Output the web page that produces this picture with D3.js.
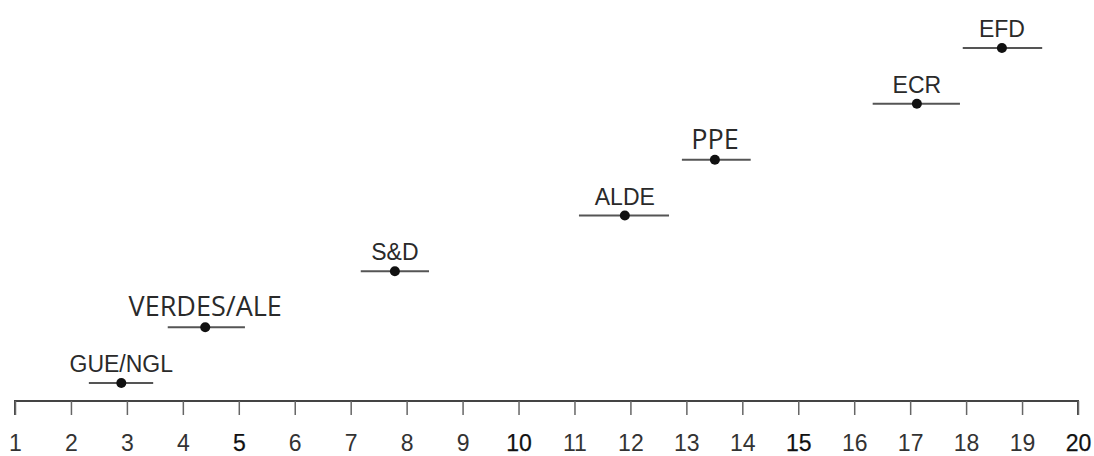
<!DOCTYPE html>
<html>
<head>
<meta charset="utf-8">
<script src="https://cdn.jsdelivr.net/npm/d3@7"></script>
<style>
body { margin: 0; background: #fff; }
</style>
</head>
<body>
<script>
var w = 1094;
var h = 456;

// data
var groups = ["GUE/NGL", "VERDES/ALE", "S&D", "ALDE", "PPE", "ECR", "EFD"];
var centers = [2.9, 4.4, 7.79, 11.9, 13.51, 17.12, 18.64];
var lows = [2.32, 3.73, 7.18, 11.08, 12.92, 16.33, 17.94];
var highs = [3.47, 5.11, 8.40, 12.69, 14.15, 17.89, 19.36];
var tickValues = d3.range(1, 21);
var boldTicks = [5, 10, 15, 20];
var altFontGroups = ["VERDES/ALE", "PPE"];

var x = d3.scaleLinear()
    .domain([1, 20])
    .range([15, 1078]);

var y = d3.scalePoint()
    .domain(groups)
    .range([383, 48]);

var svg = d3.select("body")
    .append("svg")
    .attr("width", w)
    .attr("height", h);

// axis
var axis = d3.axisBottom(x)
    .tickValues(tickValues)
    .tickFormat(d3.format("d"))
    .tickSize(14)
    .tickPadding(20);

var gAxis = svg.append("g")
    .attr("transform", "translate(0,401)")
    .call(axis);

gAxis.select(".domain")
    .attr("d", "M" + x(1) + ",14V0H" + x(20) + "V14")
    .style("stroke", "#444")
    .style("stroke-width", 2);
gAxis.selectAll(".tick line")
    .style("stroke", "#666")
    .style("stroke-width", 1.5);
gAxis.selectAll(".tick text")
    .style("font-family", "'Liberation Sans', Arial, sans-serif")
    .style("font-size", "23px")
    .style("fill", function (d) { return boldTicks.indexOf(d) >= 0 ? "#111" : "#333"; })
    .style("stroke", function (d) { return boldTicks.indexOf(d) >= 0 ? "#111" : "none"; })
    .style("stroke-width", 0.25);

//data rows
var rows = groups.map(function (g, i) {
    return { name: g, c: centers[i], lo: lows[i], hi: highs[i] };
});

svg.selectAll("line.bar")
    .data(rows)
    .enter()
    .append("line")
    .attr("class", "bar")
    .attr("x1", function (d) { return x(d.lo); })
    .attr("x2", function (d) { return x(d.hi); })
    .attr("y1", function (d) { return y(d.name); })
    .attr("y2", function (d) { return y(d.name); })
    .style("stroke", "#555")
    .style("stroke-width", 2);

svg.selectAll("circle")
    .data(rows)
    .enter()
    .append("circle")
    .attr("cx", function (d) { return x(d.c); })
    .attr("cy", function (d) { return y(d.name); })
    .attr("r", 5)
    .style("fill", "#111");

svg.selectAll("text.lab")
    .data(rows)
    .enter()
    .append("text")
    .attr("class", "lab")
    .attr("x", function (d) { return x(d.c); })
    .attr("y", function (d) { return y(d.name) - 11; })
    .attr("text-anchor", "middle")
    .style("font-family", function (d) {
        return altFontGroups.indexOf(d.name) >= 0 ? "'Open Sans', 'Noto Sans', sans-serif" : "'Liberation Sans', Arial, sans-serif";
    })
    .style("font-size", function (d) {
        return altFontGroups.indexOf(d.name) >= 0 ? "27px" : "23px";
    })
    .style("fill", "#2a2a2a")
    .text(function (d) { return d.name; });
</script>
</body>
</html>
